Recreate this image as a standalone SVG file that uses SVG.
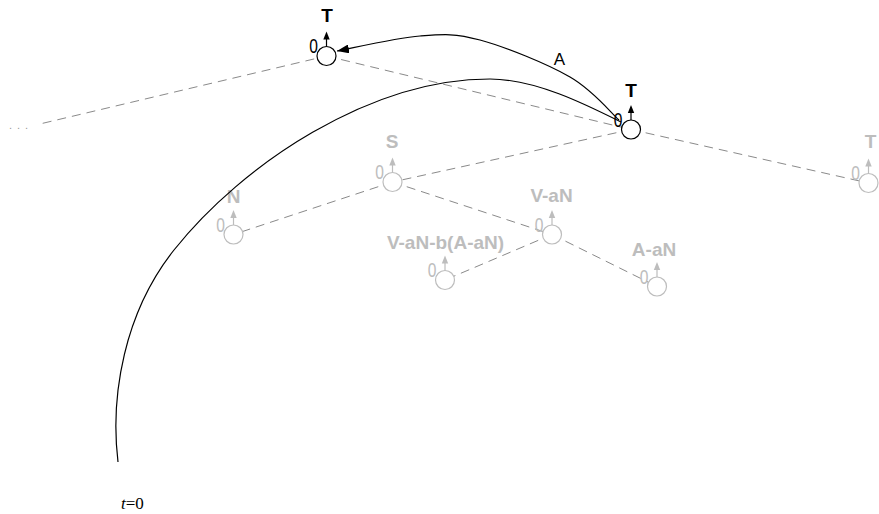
<svg xmlns="http://www.w3.org/2000/svg" width="879" height="514" viewBox="0 0 879 514">
<style>
.dash{stroke:#8a8a8a;stroke-width:1;stroke-dasharray:9,6;fill:none}
.cb{fill:#fff;stroke:#000;stroke-width:1.2}
.cg{fill:#fff;stroke:#bdbdbd;stroke-width:1.2}
.lb{font-family:"Liberation Sans",Arial,sans-serif;font-weight:bold;font-size:19px;text-anchor:middle;fill:#000}
.lg{font-family:"Liberation Sans",Arial,sans-serif;font-weight:bold;font-size:19px;text-anchor:middle;fill:#bdbdbd}
.zb{font-family:"Liberation Sans",Arial,sans-serif;font-size:20px;text-anchor:end;fill:#000}
.zg{font-family:"Liberation Sans",Arial,sans-serif;font-size:20px;text-anchor:end;fill:#bdbdbd}
.arc{fill:none;stroke:#000;stroke-width:1.2}
</style>
<defs>
<g id="up"><line x1="0" y1="0" x2="0" y2="-8" stroke-width="1.2"/><path d="M0,-15 L-3.2,-7 L3.2,-7 z" stroke="none"/></g>
<marker id="ah" markerUnits="userSpaceOnUse" markerWidth="12" markerHeight="9" viewBox="0 0 12 9" refX="12" refY="4.5" orient="auto"><path d="M0,0 L12,4.5 L0,9 z" fill="#000"/></marker>
</defs>
<g id="connectors">
<line class="dash" x1="42.7" y1="123.3" x2="326.5" y2="56"/>
<line class="dash" x1="326.5" y1="56" x2="631" y2="129.5"/>
<line class="dash" x1="631" y1="129.5" x2="868.5" y2="183"/>
<line class="dash" x1="631" y1="129.5" x2="392.5" y2="182"/>
<line class="dash" x1="392.5" y1="182" x2="233.5" y2="234.5"/>
<line class="dash" x1="392.5" y1="182" x2="552" y2="234.5"/>
<line class="dash" x1="552" y1="234.5" x2="445" y2="280"/>
<line class="dash" x1="552" y1="234.5" x2="657" y2="286.5"/>
</g>
<text x="9" y="129" font-family="Liberation Sans,Arial,sans-serif" font-size="11" fill="#999" letter-spacing="5">...</text>
<g id="n-top">
<circle class="cb" cx="326.5" cy="56" r="9.5"/>
<use href="#up" x="326.5" y="46.5" fill="#000" stroke="#000"/>
<text class="lb" x="327" y="22">T</text>
<text class="zb" transform="translate(318,53) scale(0.78,1)">0</text>
</g>
<g id="n-right">
<circle class="cb" cx="631" cy="129.5" r="9.5"/>
<use href="#up" x="631" y="120" fill="#000" stroke="#000"/>
<text class="lb" x="631" y="97">T</text>
<text class="zb" transform="translate(622.5,126.5) scale(0.78,1)">0</text>
</g>
<g id="n-S">
<circle class="cg" cx="392.5" cy="182" r="9.5"/>
<use href="#up" x="392.5" y="172.5" fill="#bdbdbd" stroke="#bdbdbd"/>
<text class="lg" x="392" y="148">S</text>
<text class="zg" transform="translate(384,179) scale(0.78,1)">0</text>
</g>
<g id="n-VaN">
<circle class="cg" cx="552" cy="234.5" r="9.5"/>
<use href="#up" x="552" y="225" fill="#bdbdbd" stroke="#bdbdbd"/>
<text class="lg" x="551.5" y="202">V-aN</text>
<text class="zg" transform="translate(543.5,231.5) scale(0.78,1)">0</text>
</g>
<g id="n-VaNb">
<circle class="cg" cx="445" cy="280" r="9.5"/>
<use href="#up" x="445" y="270.5" fill="#bdbdbd" stroke="#bdbdbd"/>
<text class="lg" x="445.5" y="249">V-aN-b(A-aN)</text>
<text class="zg" transform="translate(436.5,277) scale(0.78,1)">0</text>
</g>
<g id="n-N">
<circle class="cg" cx="233.5" cy="234.5" r="9.5"/>
<use href="#up" x="233.5" y="225" fill="#bdbdbd" stroke="#bdbdbd"/>
<text class="lg" x="233.5" y="203">N</text>
<text class="zg" transform="translate(225,231.5) scale(0.78,1)">0</text>
</g>
<g id="n-AaN">
<circle class="cg" cx="657" cy="286.5" r="9.5"/>
<use href="#up" x="657" y="277" fill="#bdbdbd" stroke="#bdbdbd"/>
<text class="lg" x="654" y="256">A-aN</text>
<text class="zg" transform="translate(648.5,283.5) scale(0.78,1)">0</text>
</g>
<g id="n-T2">
<circle class="cg" cx="868.5" cy="183" r="9.5"/>
<use href="#up" x="868.5" y="173.5" fill="#bdbdbd" stroke="#bdbdbd"/>
<text class="lg" x="870.5" y="148">T</text>
<text class="zg" transform="translate(860,180) scale(0.78,1)">0</text>
</g>
<g id="arcs">
<path class="arc" marker-end="url(#ah)" d="M619,120 C610.8,112.8 593.2,90.3 570,77 C546.8,63.7 505,46.8 480,40 C455,33.2 443.8,34.2 420,36 C396.2,37.8 350.8,48.5 337,51"/>
<path class="arc" d="M118,462 C110,395 124.4,312.4 174,250 C242.2,164.2 370,79 490,79 C535,79 585,104 621,122"/>
<text x="559.5" y="65" font-family="Liberation Sans,Arial,sans-serif" font-size="17" text-anchor="middle" fill="#000">A</text>
</g>
<text x="121" y="509" font-family="Liberation Serif,Times New Roman,serif" font-size="17" fill="#000"><tspan font-style="italic">t</tspan>=0</text>
</svg>
